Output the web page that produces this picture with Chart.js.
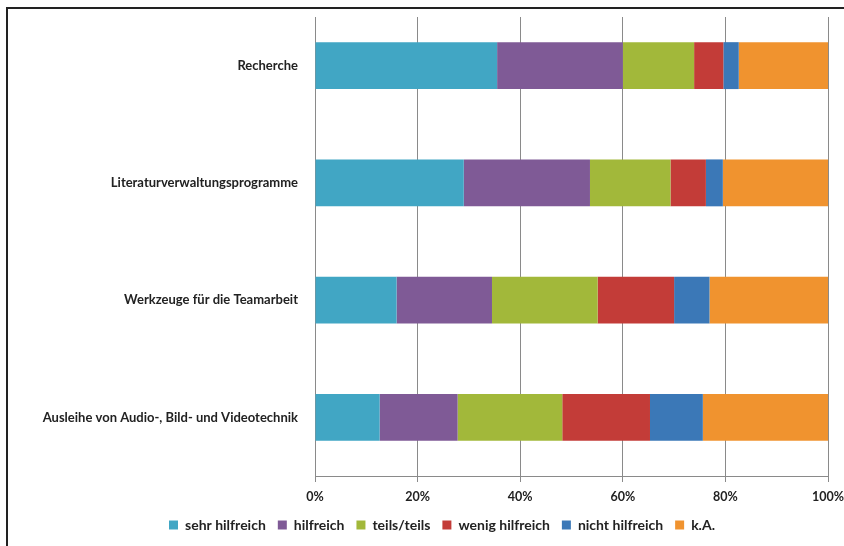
<!DOCTYPE html>
<html>
<head>
<meta charset="utf-8">
<script src="https://cdn.jsdelivr.net/npm/chart.js@4/dist/chart.umd.min.js"></script>
<style>
  body { margin: 0; background: #fff; }
  #wrap { position: relative; width: 844px; height: 546px; overflow: hidden; }
  #frame { position: absolute; left: 6px; top: 7px; right: -10px; bottom: -10px;
           border-left: 2px solid #222; border-top: 2px solid #222; pointer-events: none; }
</style>
</head>
<body>
<div id="wrap">
  <canvas id="chart" width="844" height="546"></canvas>
  <div id="frame"></div>
</div>
<script>
// data (percent of answers)
const categories = ['Recherche', 'Literaturverwaltungsprogramme', 'Werkzeuge für die Teamarbeit', 'Ausleihe von Audio-, Bild- und Videotechnik'];
const sehrHilfreich  = [35.5, 29.0, 15.9, 12.6];
const hilfreich      = [24.5, 24.6, 18.6, 15.2];
const teilsTeils     = [13.9, 15.7, 20.6, 20.4];
const wenigHilfreich = [5.7, 6.9, 14.9, 17.1];
const nichtHilfreich = [3.0, 3.3, 6.9, 10.3];
const keineAngabe    = [17.4, 20.6, 23.3, 24.4];
const xTicks = [0, 20, 40, 60, 80, 100];

const font = "Lato, 'Open Sans', sans-serif";
const ctx = document.getElementById('chart').getContext('2d');

// Excel leaves a gap between the top of the grid and the frame
const gridTopGap = {
  id: 'gridTopGap',
  beforeDatasetsDraw(chart) {
    const a = chart.chartArea;
    chart.ctx.save();
    chart.ctx.fillStyle = '#fff';
    chart.ctx.fillRect(a.left - 2, a.top - 2, a.right - a.left + 4, 12);
    chart.ctx.restore();
  }
};

function ds(label, data, color) {
  return { label, data, backgroundColor: color, borderWidth: 0, barPercentage: 0.4, categoryPercentage: 1 };
}

new Chart(ctx, {
  type: 'bar',
  data: {
    labels: categories,
    datasets: [
      ds('sehr hilfreich', sehrHilfreich, '#41a6c4'),
      ds('hilfreich', hilfreich, '#7f5a96'),
      ds('teils/teils', teilsTeils, '#a2b83a'),
      ds('wenig hilfreich', wenigHilfreich, '#c33c38'),
      ds('nicht hilfreich', nichtHilfreich, '#3b78b7'),
      ds('k.A.', keineAngabe, '#f0932f')
    ]
  },
  options: {
    indexAxis: 'y',
    responsive: false,
    animation: false,
    layout: { padding: { top: 7, left: 40, right: 0, bottom: 4 } },
    scales: {
      x: {
        stacked: true,
        min: 0, max: 100,
        afterBuildTicks: s => { s.ticks = xTicks.map(v => ({ value: v })); },
        afterFit: s => { s.height = 30; s.paddingLeft = 0; s.paddingRight = 16; },
        ticks: { callback: v => v + '%', color: '#222', padding: 7, maxRotation: 0,
                 font: { family: font, size: 12.5, weight: 'bold' } },
        grid: { color: '#8a8a8a', lineWidth: 1, tickLength: 6 },
        border: { color: '#8a8a8a', width: 1 }
      },
      y: {
        stacked: true,
        afterFit: s => { s.width = 275; s.paddingTop = 0; s.paddingBottom = 0; },
        ticks: { color: '#222', padding: 17, font: { family: font, size: 13, weight: 'bold' } },
        grid: { display: false, drawTicks: false },
        border: { display: false }
      }
    },
    plugins: {
      legend: {
        position: 'bottom',
        labels: { boxWidth: 9, boxHeight: 9, padding: 12, color: '#222',
                  font: { family: font, size: 14, weight: 'bold' } }
      },
      tooltip: { enabled: false }
    }
  },
  plugins: [gridTopGap]
});
</script>
</body>
</html>
